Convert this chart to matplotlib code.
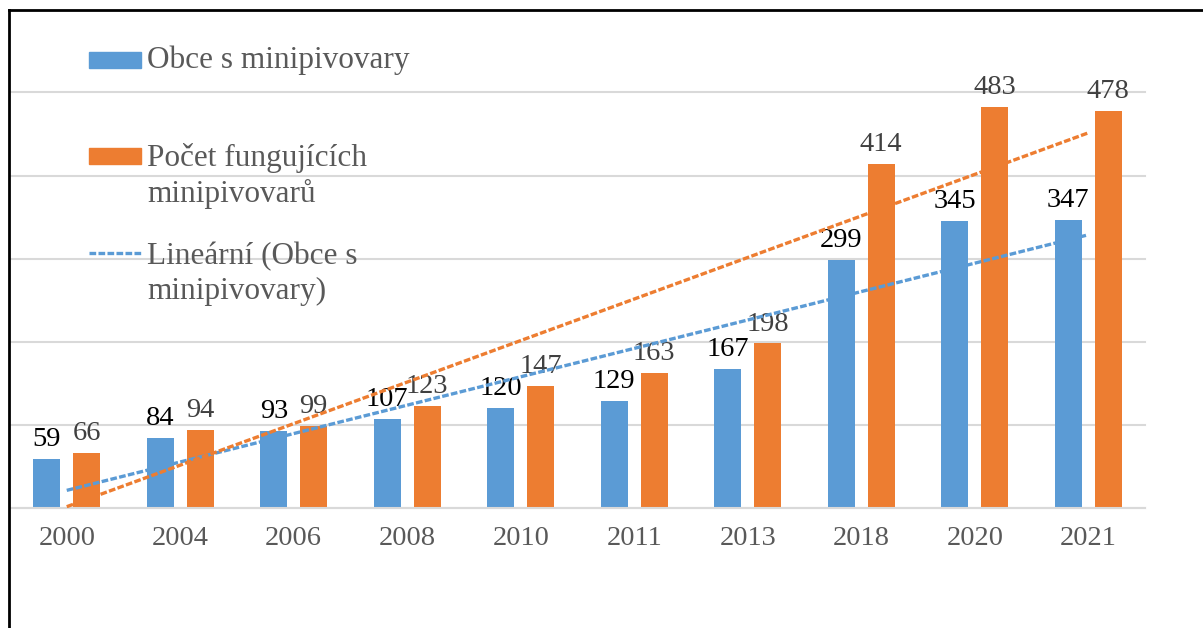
import numpy as np
import matplotlib
matplotlib.use('Agg')
from matplotlib import pyplot as plt
from matplotlib.patches import Rectangle
from matplotlib.lines import Line2D

years = ['2000', '2004', '2006', '2008', '2010', '2011', '2013', '2018', '2020', '2021']
obce = [59, 84, 93, 107, 120, 129, 167, 299, 345, 347]
pivovary = [66, 94, 99, 123, 147, 163, 198, 414, 483, 478]

BLUE = '#5B9BD5'
ORANGE = '#ED7D31'
GRID = '#D9D9D9'
TEXT = '#595959'

plt.rcParams['font.family'] = ['Liberation Serif', 'DejaVu Serif']

fig = plt.figure(figsize=(12.03, 6.28), dpi=100)
ax = fig.add_axes([10 / 1203, 1 - 508 / 628, 1135 / 1203, (508 - 92.5) / 628])

x = np.arange(len(years))
width = 0.24
offset = 0.176

bars1 = ax.bar(x - offset, obce, width, color=BLUE, zorder=2)
bars2 = ax.bar(x + offset, pivovary, width, color=ORANGE, zorder=2)

for rect, v in zip(bars1, obce):
    ax.annotate(str(v), (rect.get_x() + rect.get_width() / 2, v), xytext=(0, 5),
                textcoords='offset points', ha='center', va='bottom',
                fontsize=20.5, color='black', zorder=3)
for rect, v in zip(bars2, pivovary):
    ax.annotate(str(v), (rect.get_x() + rect.get_width() / 2, v), xytext=(0, 5),
                textcoords='offset points', ha='center', va='bottom',
                fontsize=20.5, color='#404040', zorder=3)

# linear trendlines (like Excel)
dash = (0, (2.0, 0.7))
for vals, col in [(obce, BLUE), (pivovary, ORANGE)]:
    k, q = np.polyfit(x, vals, 1)
    ax.plot([x[0], x[-1]], [q + k * x[0], q + k * x[-1]], color=col, lw=2.4,
            linestyle=dash, zorder=4)

ax.set_xlim(-0.5, len(years) - 0.5)
ax.set_ylim(0, 500)
ax.set_yticks(np.arange(0, 501, 100))
ax.yaxis.grid(True, color=GRID, lw=1.5, zorder=0)
for gl in ax.get_ygridlines():
    gl.set_clip_on(False)
ax.set_axisbelow(True)
ax.tick_params(axis='y', left=False, labelleft=False)
ax.set_xticks(x)
ax.set_xticklabels(years, fontsize=20.5, color=TEXT)
ax.tick_params(axis='x', length=0, pad=13)
for s in ['top', 'right', 'left']:
    ax.spines[s].set_visible(False)
ax.spines['bottom'].set_color(GRID)
ax.spines['bottom'].set_linewidth(1.5)


# legend drawn by hand (Excel-style wrapped entries)
def fy(py):
    return 1 - py / 628


def fx(px):
    return px / 1203


fig.patches.append(Rectangle((fx(89), fy(68)), fx(52), 16 / 628, color=BLUE,
                             transform=fig.transFigure, figure=fig))
fig.patches.append(Rectangle((fx(89), fy(164)), fx(52), 16 / 628, color=ORANGE,
                             transform=fig.transFigure, figure=fig))
fig.lines.append(Line2D([fx(89), fx(141)], [fy(253), fy(253)], color=BLUE, lw=2.4,
                        linestyle=dash, transform=fig.transFigure, figure=fig))
fig.text(fx(147), fy(60), 'Obce s minipivovary', fontsize=22.5, color=TEXT, va='center')
fig.text(fx(147), fy(176), 'Počet fungujících\nminipivovarů', fontsize=22.5, color=TEXT,
         va='center', linespacing=1.25)
fig.text(fx(147), fy(274), 'Lineární (Obce s\nminipivovary)', fontsize=22.5, color=TEXT,
         va='center', linespacing=1.25)

# frame lines on left and top
fig.lines.append(Line2D([fx(9), fx(9)], [0, fy(10)], color='black', lw=2,
                        transform=fig.transFigure, figure=fig))
fig.lines.append(Line2D([fx(9), 1], [fy(10), fy(10)], color='black', lw=2,
                        transform=fig.transFigure, figure=fig))

fig.savefig('out.png', dpi=100)
